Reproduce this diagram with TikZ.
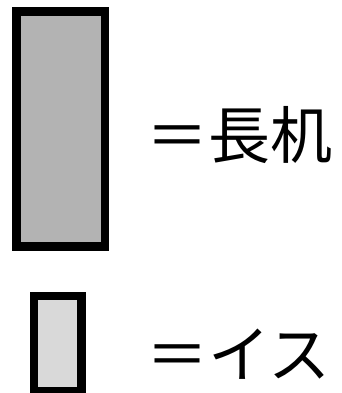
\documentclass[tikz,border=0pt]{standalone}
\usepackage{fontspec}
\newfontfamily\jp{Noto Sans CJK JP}
\definecolor{deskgray}{HTML}{B3B3B3}
\definecolor{chairgray}{HTML}{D9D9D9}
\begin{document}
\begin{tikzpicture}[x=1pt,y=-1pt,
  furn/.style={draw=black,line width=8.3pt},
  lbl/.style={font=\jp\fontsize{62}{62}\selectfont,inner sep=0pt,anchor=base west}]
\useasboundingbox (0,0) rectangle (341,393);
\node[furn,fill=deskgray,minimum width=88.5pt,minimum height=235pt,inner sep=0pt] (desk) at (60.75,129) {};
\node[furn,fill=chairgray,minimum width=47.5pt,minimum height=95pt,inner sep=0pt] (chair) at (57.75,343.5) {};
\node[lbl] (t1) at (146,158) {＝長机};
\node[lbl] (t2) at (146,377) {＝イス};
\end{tikzpicture}
\end{document}
